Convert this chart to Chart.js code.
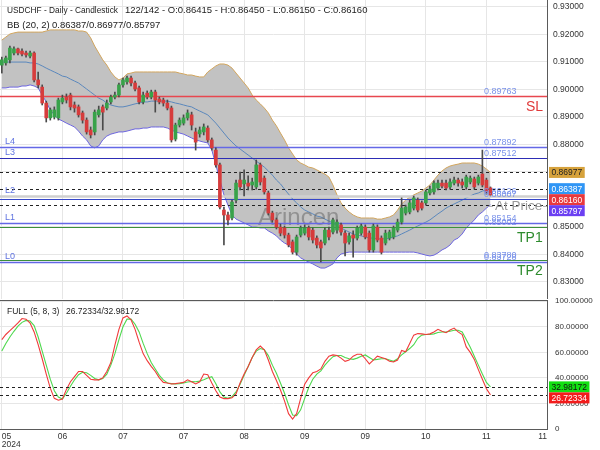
<!DOCTYPE html>
<html>
<head>
<meta charset="utf-8">
<script src="https://cdn.jsdelivr.net/npm/chart.js@4.4.1/dist/chart.umd.min.js"></script>
<style>
  body { margin: 0; background: #fff; }
  #wrap { position: relative; width: 600px; height: 450px; }
  #mainChart { position: absolute; left: 0; top: 0; }
  #oscChart { position: absolute; left: 0; top: 290px; }
</style>
</head>
<body>
<div id="wrap">
  <canvas id="mainChart" width="600" height="299"></canvas>
  <canvas id="oscChart" width="600" height="160"></canvas>
</div>
<script>
// ---- data (bar index 0..121) ----
const opens = [
  0.9088, 0.9096, 0.9107, 0.9132, 0.9147, 0.9139, 0.9132, 0.9121, 0.9132, 0.9034,
  0.9008, 0.8950, 0.8896, 0.8899, 0.8896, 0.8954, 0.8972, 0.8979, 0.8943, 0.8936,
  0.8914, 0.8888, 0.8852, 0.8845, 0.8907, 0.8936, 0.8932, 0.8954, 0.8972, 0.8979,
  0.9016, 0.9027, 0.9041, 0.9023, 0.9005, 0.8954, 0.8986, 0.8972, 0.8990, 0.8965,
  0.8961, 0.8950, 0.8932, 0.8819, 0.8870, 0.8877, 0.8896, 0.8907, 0.8845, 0.8838,
  0.8845, 0.8859, 0.8816, 0.8779, 0.8725, 0.8561, 0.8543, 0.8532, 0.8597, 0.8670,
  0.8656, 0.8659, 0.8652, 0.8645, 0.8725, 0.8677, 0.8623, 0.8550, 0.8525, 0.8499,
  0.8496, 0.8470, 0.8445, 0.8408, 0.8470, 0.8477, 0.8496, 0.8488, 0.8459, 0.8445,
  0.8441, 0.8488, 0.8481, 0.8488, 0.8507, 0.8477, 0.8445, 0.8470, 0.8459, 0.8477,
  0.8499, 0.8477, 0.8416, 0.8499, 0.8459, 0.8441, 0.8459, 0.8463, 0.8488, 0.8517,
  0.8550, 0.8554, 0.8568, 0.8597, 0.8587, 0.8587, 0.8623, 0.8627, 0.8641, 0.8659,
  0.8659, 0.8645, 0.8659, 0.8670, 0.8663, 0.8645, 0.8663, 0.8674, 0.8659, 0.8692,
  0.8670, 0.86415
];
const highs = [
  0.9117, 0.9121, 0.9157, 0.9154, 0.9150, 0.9147, 0.9139, 0.9139, 0.9136, 0.9063,
  0.9016, 0.8957, 0.8932, 0.8936, 0.8968, 0.8979, 0.8983, 0.8986, 0.8954, 0.8943,
  0.8921, 0.8896, 0.8863, 0.8925, 0.8939, 0.8943, 0.8961, 0.8979, 0.8990, 0.9023,
  0.9041, 0.9048, 0.9048, 0.9030, 0.9012, 0.8990, 0.8994, 0.8997, 0.8997, 0.8972,
  0.8968, 0.8961, 0.8939, 0.8877, 0.8896, 0.8907, 0.8925, 0.8917, 0.8859, 0.8863,
  0.8874, 0.8867, 0.8823, 0.8787, 0.8732, 0.8572, 0.8554, 0.8597, 0.8670, 0.8699,
  0.8707, 0.8685, 0.8677, 0.8743, 0.8732, 0.8685, 0.8630, 0.8557, 0.8532, 0.8510,
  0.8503, 0.8477, 0.8452, 0.8470, 0.8503, 0.8507, 0.8503, 0.8496, 0.8467, 0.8452,
  0.8496, 0.8499, 0.8532, 0.8525, 0.8514, 0.8485, 0.8477, 0.8485, 0.8503, 0.8510,
  0.8507, 0.8485, 0.8510, 0.8507, 0.8467, 0.8488, 0.8488, 0.8503, 0.8528, 0.8605,
  0.8579, 0.8597, 0.8612, 0.8605, 0.8594, 0.8634, 0.8648, 0.8667, 0.8670, 0.8670,
  0.8670, 0.8674, 0.8681, 0.8677, 0.8674, 0.8688, 0.8685, 0.8681, 0.8688, 0.8779,
  0.8677, 0.86450
];
const lows = [
  0.9059, 0.9088, 0.9096, 0.9125, 0.9125, 0.9121, 0.9117, 0.9114, 0.9027, 0.9005,
  0.8943, 0.8881, 0.8888, 0.8892, 0.8888, 0.8947, 0.8950, 0.8925, 0.8917, 0.8899,
  0.8877, 0.8837, 0.8823, 0.8834, 0.8899, 0.8852, 0.8925, 0.8947, 0.8965, 0.8972,
  0.9008, 0.9019, 0.9012, 0.8994, 0.8947, 0.8947, 0.8965, 0.8965, 0.8917, 0.8947,
  0.8939, 0.8925, 0.8808, 0.8812, 0.8863, 0.8870, 0.8888, 0.8852, 0.8779, 0.8826,
  0.8834, 0.8808, 0.8779, 0.8717, 0.8565, 0.8434, 0.8507, 0.8525, 0.8587, 0.8634,
  0.8612, 0.8634, 0.8634, 0.8637, 0.8652, 0.8619, 0.8543, 0.8517, 0.8492, 0.8467,
  0.8459, 0.8427, 0.8401, 0.8397, 0.8463, 0.8470, 0.8452, 0.8441, 0.8423, 0.8372,
  0.8434, 0.8452, 0.8474, 0.8477, 0.8470, 0.8394, 0.8437, 0.8390, 0.8452, 0.8470,
  0.8456, 0.8408, 0.8408, 0.8445, 0.8401, 0.8434, 0.8452, 0.8456, 0.8481, 0.8510,
  0.8543, 0.8547, 0.8561, 0.8554, 0.8561, 0.8579, 0.8616, 0.8619, 0.8634, 0.8641,
  0.8634, 0.8637, 0.8652, 0.8648, 0.8641, 0.8637, 0.8656, 0.8637, 0.8652, 0.8645,
  0.8619, 0.86150
];
const closes = [
  0.9107, 0.9114, 0.9150, 0.9147, 0.9132, 0.9128, 0.9125, 0.9132, 0.9034, 0.9016,
  0.8950, 0.8896, 0.8925, 0.8925, 0.8961, 0.8968, 0.8961, 0.8936, 0.8932, 0.8907,
  0.8888, 0.8845, 0.8834, 0.8917, 0.8925, 0.8917, 0.8950, 0.8972, 0.8979, 0.9016,
  0.9034, 0.9041, 0.9023, 0.9001, 0.8954, 0.8979, 0.8972, 0.8990, 0.8961, 0.8954,
  0.8950, 0.8932, 0.8816, 0.8870, 0.8888, 0.8896, 0.8914, 0.8870, 0.8808, 0.8852,
  0.8863, 0.8816, 0.8787, 0.8725, 0.8572, 0.8543, 0.8525, 0.8590, 0.8659, 0.8645,
  0.8670, 0.8648, 0.8663, 0.8725, 0.8663, 0.8627, 0.8550, 0.8525, 0.8499, 0.8477,
  0.8470, 0.8434, 0.8408, 0.8463, 0.8496, 0.8496, 0.8463, 0.8452, 0.8434, 0.8423,
  0.8488, 0.8463, 0.8525, 0.8517, 0.8481, 0.8441, 0.8467, 0.8459, 0.8496, 0.8503,
  0.8463, 0.8416, 0.8503, 0.8452, 0.8408, 0.8477, 0.8481, 0.8496, 0.8517, 0.8568,
  0.8572, 0.8587, 0.8605, 0.8561, 0.8568, 0.8627, 0.8637, 0.8659, 0.8659, 0.8648,
  0.8641, 0.8663, 0.8670, 0.8659, 0.8652, 0.8681, 0.8677, 0.8645, 0.8681, 0.8652,
  0.8627, 0.86160
];
const bbUpper = [
  0.9179, 0.9190, 0.9201, 0.9205, 0.9208, 0.9208, 0.9208, 0.9208, 0.9208, 0.9208,
  0.9208, 0.9212, 0.9216, 0.9216, 0.9216, 0.9216, 0.9216, 0.9216, 0.9216, 0.9212,
  0.9212, 0.9208, 0.9187, 0.9157, 0.9132, 0.9107, 0.9088, 0.9063, 0.9045, 0.9034,
  0.9041, 0.9056, 0.9059, 0.9063, 0.9063, 0.9063, 0.9063, 0.9063, 0.9063, 0.9063,
  0.9063, 0.9063, 0.9063, 0.9063, 0.9059, 0.9056, 0.9052, 0.9052, 0.9048, 0.9045,
  0.9045, 0.9063, 0.9074, 0.9085, 0.9092, 0.9092, 0.9088, 0.9077, 0.9059, 0.9041,
  0.9023, 0.9005, 0.8979, 0.8961, 0.8947, 0.8932, 0.8914, 0.8888, 0.8867, 0.8841,
  0.8816, 0.8787, 0.8765, 0.8743, 0.8732, 0.8725, 0.8717, 0.8714, 0.8707, 0.8699,
  0.8692, 0.8681, 0.8652, 0.8616, 0.8587, 0.8568, 0.8554, 0.8543, 0.8536, 0.8532,
  0.8532, 0.8532, 0.8532, 0.8528, 0.8528, 0.8532, 0.8536, 0.8543, 0.8561, 0.8583,
  0.8597, 0.8608, 0.8616, 0.8623, 0.8630, 0.8641, 0.8652, 0.8670, 0.8688, 0.8703,
  0.8714, 0.8721, 0.8725, 0.8728, 0.8732, 0.8732, 0.8732, 0.8732, 0.8728, 0.8721,
  0.8710, 0.86977
];
const bbMiddle = [
  0.9099, 0.9099, 0.9099, 0.9099, 0.9099, 0.9099, 0.9099, 0.9096, 0.9096, 0.9092,
  0.9085, 0.9077, 0.9070, 0.9063, 0.9056, 0.9048, 0.9045, 0.9037, 0.9030, 0.9023,
  0.9012, 0.9001, 0.8990, 0.8979, 0.8968, 0.8961, 0.8950, 0.8943, 0.8939, 0.8936,
  0.8936, 0.8939, 0.8943, 0.8947, 0.8950, 0.8954, 0.8954, 0.8957, 0.8957, 0.8957,
  0.8957, 0.8957, 0.8954, 0.8950, 0.8947, 0.8943, 0.8939, 0.8936, 0.8928, 0.8921,
  0.8914, 0.8907, 0.8892, 0.8877, 0.8859, 0.8841, 0.8823, 0.8808, 0.8794, 0.8783,
  0.8772, 0.8761, 0.8750, 0.8739, 0.8728, 0.8717, 0.8703, 0.8688, 0.8670, 0.8656,
  0.8637, 0.8619, 0.8601, 0.8587, 0.8572, 0.8561, 0.8554, 0.8547, 0.8539, 0.8536,
  0.8528, 0.8521, 0.8514, 0.8503, 0.8496, 0.8488, 0.8481, 0.8474, 0.8470, 0.8467,
  0.8463, 0.8459, 0.8459, 0.8456, 0.8456, 0.8456, 0.8459, 0.8463, 0.8467, 0.8474,
  0.8481, 0.8488, 0.8496, 0.8503, 0.8510, 0.8517, 0.8525, 0.8536, 0.8547, 0.8557,
  0.8568, 0.8576, 0.8583, 0.8590, 0.8597, 0.8605, 0.8612, 0.8619, 0.8623, 0.8630,
  0.8634, 0.86387
];
const bbLower = [
  0.9005, 0.9005, 0.9008, 0.9008, 0.9008, 0.9012, 0.9012, 0.9016, 0.9012, 0.9005,
  0.8979, 0.8954, 0.8925, 0.8907, 0.8892, 0.8885, 0.8877, 0.8870, 0.8863, 0.8848,
  0.8830, 0.8816, 0.8794, 0.8787, 0.8794, 0.8816, 0.8830, 0.8837, 0.8841, 0.8845,
  0.8845, 0.8848, 0.8852, 0.8856, 0.8856, 0.8859, 0.8859, 0.8863, 0.8863, 0.8863,
  0.8863, 0.8859, 0.8852, 0.8845, 0.8841, 0.8837, 0.8830, 0.8823, 0.8816, 0.8812,
  0.8808, 0.8805, 0.8779, 0.8725, 0.8670, 0.8616, 0.8579, 0.8543, 0.8528, 0.8521,
  0.8514, 0.8507, 0.8499, 0.8499, 0.8496, 0.8496, 0.8485, 0.8477, 0.8467, 0.8452,
  0.8441, 0.8434, 0.8416, 0.8401, 0.8387, 0.8379, 0.8372, 0.8365, 0.8357, 0.8350,
  0.8350, 0.8357, 0.8365, 0.8387, 0.8401, 0.8405, 0.8408, 0.8408, 0.8408, 0.8408,
  0.8408, 0.8408, 0.8408, 0.8408, 0.8408, 0.8408, 0.8408, 0.8408, 0.8408, 0.8408,
  0.8408, 0.8408, 0.8408, 0.8405, 0.8401, 0.8397, 0.8394, 0.8397, 0.8405, 0.8416,
  0.8423, 0.8434, 0.8452, 0.8459, 0.8474, 0.8496, 0.8510, 0.8525, 0.8543, 0.8554,
  0.8568, 0.85797
];
const stochK = [
  70, 74, 77, 80, 83, 86.5, 86, 83, 76, 66,
  55, 43, 32, 24, 22.5, 23.5, 31, 37, 41, 45,
  45, 42, 39, 38.5, 38.5, 40, 45, 52, 65.7, 78,
  87, 88.5, 85.5, 78, 68, 59, 53.5, 49, 45, 40,
  36.5, 36, 35.3, 35.5, 36, 36.5, 38.5, 37, 35.3, 37,
  43, 42.5, 36, 30, 25, 23.8, 23.8, 24.5, 27.5, 36,
  43, 49, 56, 62, 65, 62, 54, 45, 38, 30.5,
  22, 12, 7.8, 12, 24, 35, 40, 44, 45, 47,
  53, 57, 58, 57.5, 55.5, 53, 54, 57, 58.5, 58.5,
  55, 51, 54, 57, 56, 55, 53, 52.5, 54, 61.5,
  60.5, 67, 73.5, 74.7, 74.5, 74, 74.5, 76, 78, 76.5,
  75.4, 77.5, 79, 76, 74, 64.3, 60, 54.5, 46.5, 39,
  31.5, 26.72334
];
const stochD = [
  61, 67, 72, 76.5, 80.5, 83.5, 85, 84.5, 81, 72,
  61, 50, 39, 30, 25, 23.5, 28, 33.5, 38.5, 42.5,
  44.4, 44, 42, 39.5, 38.5, 39.5, 43, 50, 59, 70,
  80, 86, 86, 82, 76, 67, 59, 52, 47, 42,
  38.5, 36, 35.5, 35.3, 35.5, 36, 36.8, 37.2, 37, 37.5,
  38.5, 40, 41, 35.5, 29, 25, 24, 25.3, 29, 35,
  42, 49, 56, 61, 63, 62, 57.5, 50, 43.6, 36,
  28, 19, 11, 10.5, 15, 24, 32.5, 39, 43, 45.5,
  50, 53.5, 56.6, 57.5, 57.5, 56, 55, 54.5, 55.5, 57,
  58, 56, 54, 54.5, 55, 55, 54, 53, 55, 58,
  60.5, 63, 66, 71, 73.5, 74, 74, 74.5, 75.5, 76,
  76, 76.5, 77.3, 77.3, 76, 70, 64, 57, 50, 43,
  36.5, 32.98172
];

const xTickIdx = [0, 15, 30, 45, 60, 75, 90, 105, 120, 135];
const xTickLabels = [['05', '2024'], '06', '07', '07', '08', '09', '09', '10', '11', '11'];
const priceTicks = [0.83, 0.84, 0.85, 0.86, 0.87, 0.88, 0.89, 0.90, 0.91, 0.92, 0.93];
const oscTicks = [0, 20, 40, 60, 80, 100];

const levelNames = ['SL', 'L4', 'L3', 'L2', '', 'L1', 'TP1', 'TP2', 'L0'];
const levelValues = [0.89763, 0.87892, 0.87512, 0.86126, 0.86007, 0.85154, 0.85002, 0.83780, 0.83728];
const bbNow = [0.86387, 0.86977, 0.85797]; // middle / upper / lower
const ohlcNow = [0.86415, 0.86450, 0.86150, 0.86160];
const stochNow = [26.72334, 32.98172]; // %K / %D

// ---- look ----
const family = '"Liberation Sans", Arial, sans-serif';
const gridColor = '#e6e6e6';
const axisColor = '#5a5a5a';
const upColor = '#38a24a';
const downColor = '#d63c3c';
const xMin = -0.45, xMax = 135;

function levelStyle(name) {
  if (name === 'SL') return { color: '#e8474f', width: 1.5 };
  if (name === 'TP1' || name === 'TP2') return { color: '#3b8f3b', width: 1.2 };
  if (name === 'L2') return { color: '#cfcfcf', width: 2.5 };
  if (name === 'L3') return { color: '#2d2db5', width: 1.2 };
  if (name === '') return { color: '#3545c8', width: 1.2 };
  return { color: '#6468e6', width: 1.5 };
}

function hLine(ctx, a, py, color, width, dash) {
  ctx.save();
  ctx.strokeStyle = color;
  ctx.lineWidth = width;
  ctx.setLineDash(dash || []);
  ctx.beginPath();
  ctx.moveTo(a.left, py);
  ctx.lineTo(a.right, py);
  ctx.stroke();
  ctx.restore();
}

function drawBoxes(chart, items) {
  const ctx = chart.ctx;
  const ys = chart.scales.y;
  const x0 = chart.chartArea.right + 2;
  const h = 11;
  let prev = -Infinity;
  const placed = items.map(it => Object.assign({}, it, { py: ys.getPixelForValue(it.v) }))
    .sort((p, q) => p.py - q.py);
  ctx.save();
  ctx.font = '8.5px ' + family;
  ctx.textBaseline = 'middle';
  placed.forEach(it => {
    const cy = Math.max(it.py, prev + h);
    prev = cy;
    const w = ctx.measureText(it.text).width + 5;
    ctx.fillStyle = it.bg;
    ctx.fillRect(x0, cy - h / 2, w, h);
    ctx.fillStyle = it.fg;
    ctx.fillText(it.text, x0 + 2.5, cy + 0.5);
  });
  ctx.restore();
}

const mainOverlay = {
  id: 'mainOverlay',
  afterDatasetDraw(chart, args) {
    if (args.index !== 2) return; // right after the middle band
    const ctx = chart.ctx, a = chart.chartArea, ys = chart.scales.y;
    ctx.save();
    ctx.beginPath();
    ctx.rect(a.left, a.top, a.right - a.left, a.bottom - a.top);
    ctx.clip();
    ctx.font = '24px ' + family;
    ctx.fillStyle = 'rgba(95,95,95,0.5)';
    ctx.textBaseline = 'middle';
    ctx.fillText('Arincen', a.left + 258, ys.getPixelForValue(0.8532));
    levelValues.forEach((v, i) => {
      const st = levelStyle(levelNames[i]);
      hLine(ctx, a, Math.round(ys.getPixelForValue(v)) + 0.5, st.color, st.width);
    });
    bbNow.forEach(v => hLine(ctx, a, Math.round(ys.getPixelForValue(v)) + 0.5, '#222', 1, [3, 3]));
    ctx.restore();
  },
  afterDatasetsDraw(chart) {
    const ctx = chart.ctx, a = chart.chartArea, ys = chart.scales.y;
    ctx.save();
    ctx.textBaseline = 'alphabetic';
    levelValues.forEach((v, i) => {
      const name = levelNames[i];
      const py = ys.getPixelForValue(v);
      ctx.font = '9px ' + family;
      ctx.fillStyle = '#7b93ea';
      ctx.fillText(v.toFixed(5), a.right - 63, py - 2);
      if (name.startsWith('L')) {
        ctx.fillStyle = '#5f73e0';
        ctx.fillText(name, a.left + 5, py - 3);
      } else if (name) {
        ctx.font = '14px ' + family;
        ctx.fillStyle = name === 'SL' ? '#e03a3a' : '#2e8b2e';
        ctx.textBaseline = 'middle';
        ctx.fillText(name, name === 'SL' ? a.right - 21 : a.right - 30, py + 11);
        ctx.textBaseline = 'alphabetic';
      }
    });
    // "At Price" marker
    const apy = ys.getPixelForValue(bbNow[2]) + 1.5;
    ctx.font = '13.5px ' + family;
    ctx.fillStyle = '#999';
    ctx.textBaseline = 'middle';
    ctx.fillText('At Price', a.right - 52, apy);
    ctx.strokeStyle = '#aaa';
    ctx.lineWidth = 1;
    ctx.beginPath();
    ctx.moveTo(a.right - 59, apy); ctx.lineTo(a.right - 54, apy);
    ctx.moveTo(a.right - 4, apy); ctx.lineTo(a.right, apy);
    ctx.stroke();
    // titles
    ctx.fillStyle = '#222';
    ctx.font = '9.5px ' + family;
    ctx.fillText('USDCHF - Daily - Candlestick', 7, 10, 111);
    ctx.fillText('122/142 - O:' + ohlcNow[0].toFixed(5) + ' - H:' + ohlcNow[1].toFixed(5) +
      ' - L:' + ohlcNow[2].toFixed(5) + ' - C:' + ohlcNow[3].toFixed(5), 125, 10);
    ctx.fillText('BB (20, 2)', 7, 25);
    ctx.fillText(bbNow.map(v => v.toFixed(5)).join('/'), 52, 25);
    ctx.restore();
  },
  afterDraw(chart) {
    drawBoxes(chart, [
      { v: bbNow[1], text: bbNow[1].toFixed(5), bg: '#d6a23c', fg: '#222' },
      { v: bbNow[0], text: bbNow[0].toFixed(5), bg: '#2f95f5', fg: '#fff' },
      { v: ohlcNow[3], text: ohlcNow[3].toFixed(5), bg: '#e8383d', fg: '#fff' },
      { v: bbNow[2], text: bbNow[2].toFixed(5), bg: '#6b3ff2', fg: '#fff' }
    ]);
  }
};

const idx = closes.map((c, i) => i);
const candleColors = closes.map((c, i) => (c >= opens[i] ? upColor : downColor));

new Chart(document.getElementById('mainChart'), {
  type: 'bar',
  data: {
    datasets: [
      { type: 'line', data: idx.map(i => ({ x: i, y: bbUpper[i] })), borderColor: '#d2a55c', borderWidth: 1,
        backgroundColor: '#c2c2c2', fill: '+1', pointRadius: 0, tension: 0, order: 10 },
      { type: 'line', data: idx.map(i => ({ x: i, y: bbLower[i] })), borderColor: '#6d66e0', borderWidth: 1,
        fill: false, pointRadius: 0, tension: 0, order: 9 },
      { type: 'line', data: idx.map(i => ({ x: i, y: bbMiddle[i] })), borderColor: '#5b88bd', borderWidth: 1,
        fill: false, pointRadius: 0, tension: 0, order: 8 },
      { data: idx.map(i => ({ x: i, y: [lows[i], highs[i]] })), backgroundColor: '#4a4a4a',
        barThickness: 1, grouped: false, order: 3 },
      { data: idx.map(i => ({ x: i, y: [opens[i], closes[i]] })), backgroundColor: candleColors,
        barThickness: 3, minBarLength: 1, grouped: false, order: 2 }
    ]
  },
  options: {
    responsive: false,
    animation: false,
    events: [],
    layout: { padding: 0 },
    plugins: { legend: { display: false }, tooltip: { enabled: false } },
    scales: {
      x: {
        type: 'linear', min: xMin, max: xMax, offset: false,
        afterBuildTicks: s => { s.ticks = xTickIdx.map(v => ({ value: v })); },
        afterFit: s => { s.height = 0; s.paddingLeft = 0; s.paddingRight = 0; },
        ticks: { display: false },
        grid: { color: gridColor, drawTicks: false, offset: false },
        border: { display: false }
      },
      y: {
        type: 'linear', position: 'right', min: 0.82375, max: 0.93247, beginAtZero: false,
        afterBuildTicks: s => { s.ticks = priceTicks.map(v => ({ value: v })); },
        afterFit: s => { s.width = 53; s.paddingTop = 0; s.paddingBottom = 0; },
        ticks: { padding: 6, color: '#333', font: { family: family, size: 8.5 }, callback: v => v.toFixed(5) },
        grid: { color: gridColor, drawTicks: false },
        border: { color: axisColor }
      }
    }
  },
  plugins: [mainOverlay]
});

const oscOverlay = {
  id: 'oscOverlay',
  afterDatasetsDraw(chart) {
    const ctx = chart.ctx, a = chart.chartArea, ys = chart.scales.y;
    stochNow.forEach(v => hLine(ctx, a, Math.round(ys.getPixelForValue(v)) + 0.5, '#222', 1, [3, 3]));
    ctx.save();
    ctx.strokeStyle = axisColor;
    ctx.lineWidth = 1;
    ctx.beginPath();
    ctx.moveTo(0, a.top + 0.5);
    ctx.lineTo(a.right, a.top + 0.5);
    ctx.stroke();
    ctx.fillStyle = '#222';
    ctx.font = '8.5px ' + family;
    ctx.textBaseline = 'middle';
    ctx.fillText('FULL (5, 8, 3)', 7, a.top + 11.5);
    ctx.fillText(stochNow.map(v => v.toFixed(5)).join('/'), 66, a.top + 11.5);
    ctx.restore();
  },
  afterDraw(chart) {
    drawBoxes(chart, [
      { v: stochNow[1], text: stochNow[1].toFixed(5), bg: '#12e012', fg: '#111' },
      { v: stochNow[0], text: stochNow[0].toFixed(5), bg: '#f21c1c', fg: '#fff' }
    ]);
  }
};

new Chart(document.getElementById('oscChart'), {
  type: 'line',
  data: {
    datasets: [
      { data: idx.map(i => ({ x: i, y: stochK[i] })), borderColor: '#f03a3a', borderWidth: 1.1,
        pointRadius: 0, tension: 0, fill: false },
      { data: idx.map(i => ({ x: i, y: stochD[i] })), borderColor: '#4ed84e', borderWidth: 1.1,
        pointRadius: 0, tension: 0, fill: false }
    ]
  },
  options: {
    responsive: false,
    animation: false,
    events: [],
    layout: { padding: { top: 10, left: 0, right: 0, bottom: 0 } },
    plugins: { legend: { display: false }, tooltip: { enabled: false } },
    scales: {
      x: {
        type: 'linear', min: xMin, max: xMax, offset: false,
        afterBuildTicks: s => { s.ticks = xTickIdx.map(v => ({ value: v })); },
        afterFit: s => { s.height = 21; s.paddingLeft = 0; s.paddingRight = 0; },
        ticks: { autoSkip: false, maxRotation: 0, align: 'inner', padding: 3, color: '#333',
                 font: { family: family, size: 8.5, lineHeight: 1 }, callback: (v, i) => xTickLabels[i] },
        grid: { color: gridColor, drawTicks: false },
        border: { color: axisColor }
      },
      y: {
        type: 'linear', position: 'right', min: 0, max: 101,
        afterBuildTicks: s => { s.ticks = oscTicks.map(v => ({ value: v })); },
        afterFit: s => { s.width = 53; s.paddingTop = 0; s.paddingBottom = 0; },
        ticks: { padding: 8, color: '#333', font: { family: family, size: 8 },
                 callback: v => (v === 0 ? '0' : v.toFixed(5)) },
        grid: { color: gridColor, drawTicks: false },
        border: { color: axisColor }
      }
    }
  },
  plugins: [oscOverlay]
});
</script>
</body>
</html>
